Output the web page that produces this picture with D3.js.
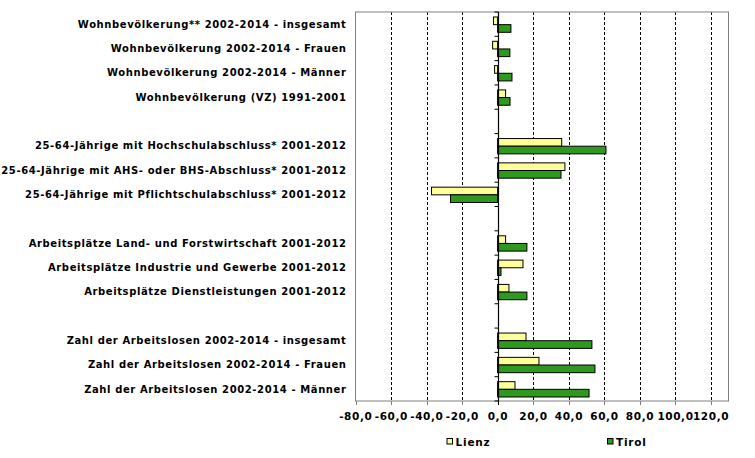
<!DOCTYPE html>
<html><head><meta charset="utf-8">
<script src="https://cdn.jsdelivr.net/npm/d3@7"></script>
<style>body{margin:0;background:#fff;} text{font-family:"DejaVu Sans",Verdana,sans-serif;font-weight:bold;}</style>
</head><body><svg id="c" width="755" height="458"></svg>
<script>
const categories = [
  "Wohnbevölkerung** 2002-2014 - insgesamt",
  "Wohnbevölkerung 2002-2014 - Frauen",
  "Wohnbevölkerung 2002-2014 - Männer",
  "Wohnbevölkerung (VZ) 1991-2001",
  "",
  "25-64-Jährige mit Hochschulabschluss* 2001-2012",
  "25-64-Jährige mit AHS- oder BHS-Abschluss* 2001-2012",
  "25-64-Jährige mit Pflichtschulabschluss* 2001-2012",
  " ",
  "Arbeitsplätze Land- und Forstwirtschaft 2001-2012",
  "Arbeitsplätze Industrie und Gewerbe 2001-2012",
  "Arbeitsplätze Dienstleistungen 2001-2012",
  "  ",
  "Zahl der Arbeitslosen 2002-2014 - insgesamt",
  "Zahl der Arbeitslosen 2002-2014 - Frauen",
  "Zahl der Arbeitslosen 2002-2014 - Männer"
];
const lienz = [-2.3, -2.8, -1.7, 4.5, null, 36.1, 37.9, -37.2, null, 4.5, 14.3, 6.4, null, 16.0, 23.3, 9.8];
const tirol = [7.5, 6.9, 8.1, 7.0, null, 61.0, 35.7, -26.5, null, 16.5, 1.9, 16.5, null, 53.1, 54.8, 51.5];
const seriesNames = ["Lienz", "Tirol"];
const seriesColors = ["#FFFF99", "#2E991E"];
const tickValues = [-80, -60, -40, -20, 0, 20, 40, 60, 80, 100, 120];

(function(){
const svg = d3.select("#c");
const pL = 355.5, pR = 728.5, pT = 12, pB = 401;
const x = d3.scaleLinear().domain([-80, 130]).range([pL, pR]);
const y = d3.scaleBand().domain(categories).range([pT, pB]);
const bw = y.bandwidth();
const barH = bw * 0.315;

// gridlines
svg.append("g").selectAll("line").data(tickValues.filter(v => v !== 0 && v !== -80)).join("line")
  .attr("x1", d => Math.round(x(d)) + 0.5).attr("x2", d => Math.round(x(d)) + 0.5)
  .attr("y1", pT).attr("y2", pB)
  .attr("stroke", "#000").attr("stroke-width", 1).attr("stroke-dasharray", "3,2");

// plot border
svg.append("rect").attr("x", pL).attr("y", pT).attr("width", pR - pL).attr("height", pB - pT)
  .attr("fill", "none").attr("stroke", "#808080").attr("stroke-width", 1);

// bars
const data = categories.map((c, i) => ({c, l: lienz[i], t: tirol[i]}));
const g = svg.append("g");
const y0 = d => y(d.c) + bw * 0.205;
g.selectAll("rect.l").data(data.filter(d => d.l !== null)).join("rect")
  .attr("x", d => x(Math.min(0, d.l))).attr("width", d => Math.abs(x(d.l) - x(0)))
  .attr("y", d => y0(d)).attr("height", barH)
  .attr("fill", seriesColors[0]).attr("stroke", "#000").attr("stroke-width", 1);
g.selectAll("rect.t").data(data.filter(d => d.t !== null)).join("rect")
  .attr("x", d => x(Math.min(0, d.t))).attr("width", d => Math.abs(x(d.t) - x(0)))
  .attr("y", d => y0(d) + barH).attr("height", barH)
  .attr("fill", seriesColors[1]).attr("stroke", "#000").attr("stroke-width", 1);

// zero axis
const zx = Math.round(x(0)) + 0.5;
svg.append("line").attr("x1", zx).attr("x2", zx).attr("y1", pT).attr("y2", pB)
  .attr("stroke", "#000").attr("stroke-width", 1.2);
svg.append("g").selectAll("line").data(d3.range(categories.length + 1)).join("line")
  .attr("x1", zx - 4).attr("x2", zx).attr("y1", i => pT + i * bw).attr("y2", i => pT + i * bw)
  .attr("stroke", "#000");

// bottom ticks
svg.append("g").selectAll("line").data(tickValues).join("line")
  .attr("x1", d => Math.round(x(d)) + 0.5).attr("x2", d => Math.round(x(d)) + 0.5)
  .attr("y1", pB).attr("y2", pB + 4).attr("stroke", d => d === 0 ? "#000" : "#808080");

// x tick labels
const fmt = d => d3.format(".1f")(d).replace(".", ",").replace("−", "-");
svg.append("g").selectAll("text").data(tickValues).join("text")
  .attr("x", d => x(d) + 0.3).attr("y", 420).attr("text-anchor", "middle")
  .attr("font-size", "10.5px").attr("letter-spacing", "0.6px").text(fmt);

// category labels
svg.append("g").selectAll("text").data(categories.filter(c => c.trim() !== "")).join("text")
  .attr("x", 346.5).attr("y", c => y(c) + bw / 2 + 3.7).attr("text-anchor", "end")
  .attr("font-size", "10px").attr("letter-spacing", "0.6px").text(c => c);

// legend
const leg = [{n: seriesNames[0], c: seriesColors[0], x: 447}, {n: seriesNames[1], c: seriesColors[1], x: 607.5}];
const lg = svg.append("g").selectAll("g").data(leg).join("g");
lg.append("rect").attr("x", d => d.x).attr("y", 438.5).attr("width", 5.5).attr("height", 5.5)
  .attr("fill", d => d.c).attr("stroke", "#000").attr("stroke-width", 1);
lg.append("text").attr("x", d => d.x + 8.5).attr("y", 445.5).attr("font-size", "10.5px")
  .attr("letter-spacing", "0.8px").text(d => d.n);
})();
</script></body></html>
